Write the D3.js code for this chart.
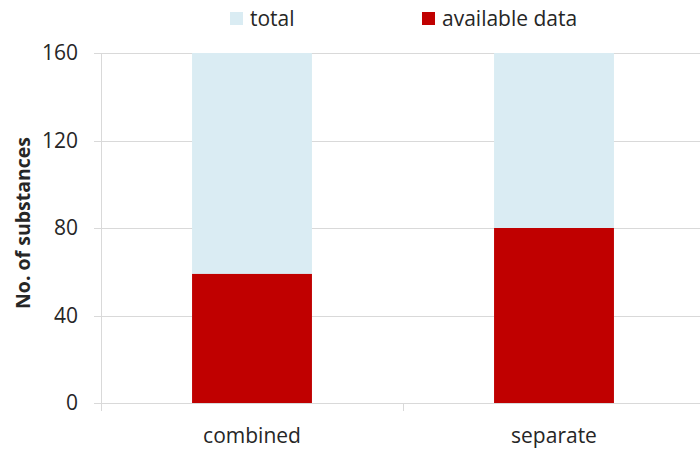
<!DOCTYPE html>
<html>
<head>
<meta charset="utf-8">
<script src="https://cdn.jsdelivr.net/npm/d3@7"></script>
<style>
  body { margin: 0; background: #fff; }
  text { font-family: "Open Sans", "Noto Sans", sans-serif; fill: #262626; }
</style>
</head>
<body>
<script>
// data
const categories = ["combined", "separate"];
const totalValues = [160, 160];
const availableValues = [59, 80];
const yTicks = [0, 40, 80, 120, 160];
const seriesNames = ["total", "available data"];
const seriesColors = ["#daecf3", "#c00000"];

const width = 700, height = 451;
const margin = { top: 53, right: -5, bottom: 48, left: 101 };

const svg = d3.select("body").append("svg")
  .attr("width", width)
  .attr("height", height);

const x = d3.scaleBand()
  .domain(categories)
  .range([margin.left, width - margin.right])
  .padding(0);

const y = d3.scaleLinear()
  .domain([0, 160])
  .range([height - margin.bottom, margin.top]);

// gridlines
svg.append("g")
  .selectAll("line")
  .data(yTicks)
  .join("line")
  .attr("x1", margin.left - 7)
  .attr("x2", width)
  .attr("y1", d => Math.round(y(d)) + 0.5)
  .attr("y2", d => Math.round(y(d)) + 0.5)
  .attr("stroke", "#d9d9d9")
  .attr("stroke-width", 1);

// y labels
svg.append("g")
  .selectAll("text")
  .data(yTicks)
  .join("text")
  .attr("x", margin.left - 23)
  .attr("y", d => y(d))
  .attr("dy", "0.35em")
  .attr("text-anchor", "end")
  .style("font-size", "21px")
  .text(d => d);

// bars : total behind, available in front
const barW = x.bandwidth() * 0.397;
svg.append("g")
  .selectAll("rect")
  .data(categories)
  .join("rect")
  .attr("x", d => x(d) + x.bandwidth() / 2 - barW / 2)
  .attr("width", barW)
  .attr("y", (d, i) => y(totalValues[i]))
  .attr("height", (d, i) => y(0) - y(totalValues[i]))
  .attr("fill", seriesColors[0]);

svg.append("g")
  .selectAll("rect")
  .data(categories)
  .join("rect")
  .attr("x", d => x(d) + x.bandwidth() / 2 - barW / 2)
  .attr("width", barW)
  .attr("y", (d, i) => y(availableValues[i]))
  .attr("height", (d, i) => y(0) - y(availableValues[i]))
  .attr("fill", seriesColors[1]);

// axes lines
svg.append("line")
  .attr("x1", margin.left + 0.5).attr("x2", margin.left + 0.5)
  .attr("y1", y(160)).attr("y2", y(0) + 8)
  .attr("stroke", "#d9d9d9");

svg.append("g")
  .selectAll("line")
  .data(categories.slice(1))
  .join("line")
  .attr("x1", d => Math.round(x(d)) + 0.5)
  .attr("x2", d => Math.round(x(d)) + 0.5)
  .attr("y1", y(0))
  .attr("y2", y(0) + 8)
  .attr("stroke", "#d9d9d9");

// x labels
svg.append("g")
  .selectAll("text")
  .data(categories)
  .join("text")
  .attr("x", d => x(d) + x.bandwidth() / 2)
  .attr("y", y(0) + 40)
  .attr("text-anchor", "middle")
  .style("font-size", "21px")
  .text(d => d);

// y title
svg.append("text")
  .attr("transform", `translate(30,${(y(0) + y(160)) / 2 - 5}) rotate(-90)`)
  .attr("text-anchor", "middle")
  .style("font-size", "19.5px")
  .style("font-weight", "bold")
  .text("No. of substances");

// legend
const legendX = [230, 422];
const legend = svg.append("g")
  .selectAll("g")
  .data(seriesNames)
  .join("g")
  .attr("transform", (d, i) => `translate(${legendX[i]},12)`);

legend.append("rect")
  .attr("width", 13).attr("height", 13)
  .attr("fill", (d, i) => seriesColors[i]);

legend.append("text")
  .attr("x", 20)
  .attr("y", 7)
  .attr("dy", "0.35em")
  .style("font-size", "21px")
  .text(d => d);
</script>
</body>
</html>
